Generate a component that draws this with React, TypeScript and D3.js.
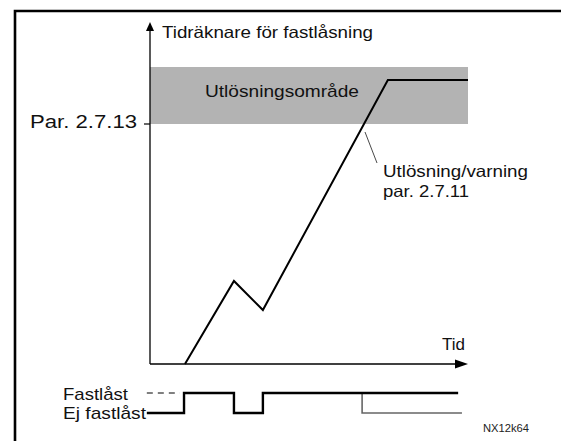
import React from "react";
import * as d3 from "d3";

// ---- data ----
const counterTime = [1.1, 2.64, 3.55, 7.48, 10];
const counterValue = [0, 34.6, 22.5, 118.3, 118.3];
const tripZone = [100, 123.75];
const limitValue = 100;
const limitLabel = "Par. 2.7.13";
const signalTime = [-0.1, 1.07, 2.64, 3.55, 9.69];
const signalState = [0, 1, 0, 1, 1];
const altSignalTime = [6.67, 6.67, 9.81];
const altSignalState = [1, 0, 0];
const dashedTime = [-0.1, 0.94];
const stateLabels = ["Ej fastlåst", "Fastlåst"];

const W = 561;
const H = 441;

export default function App() {
  const x = d3.scaleLinear().domain([0, 10]).range([150, 468]);
  const y = d3.scaleLinear().domain([0, 100]).range([364, 124]);
  const ys = d3.scaleLinear().domain([0, 1]).range([413, 393]);

  const counterPts = counterTime.map((t, i) => [t, counterValue[i]] as [number, number]);
  const counterLine = d3.line<[number, number]>().x((d) => x(d[0])).y((d) => y(d[1]))(counterPts) || "";

  const stepLine = d3
    .line<[number, number]>()
    .x((d) => x(d[0]))
    .y((d) => ys(d[1]))
    .curve(d3.curveStepAfter);
  const sigPath = stepLine(signalTime.map((t, i) => [t, signalState[i]] as [number, number])) || "";
  const altPath =
    d3
      .line<[number, number]>()
      .x((d) => x(d[0]))
      .y((d) => ys(d[1]))(altSignalTime.map((t, i) => [t, altSignalState[i]] as [number, number])) || "";

  const x0 = x(0);
  const y0 = y(0);
  const xEnd = x(10);
  const yTop = 22;
  const font = "Liberation Sans, Arial, Helvetica, sans-serif";

  return (
    <div style={{ position: "fixed", left: 0, top: 0, width: W, height: H, overflow: "hidden" }}>
      <svg width={W} height={H} style={{ display: "block" }} fontFamily={font}>
        <rect width={W} height={H} fill="#fff" />
        {/* frame */}
        <path d={`M15,${H} V11 H${W}`} fill="none" stroke="#000" strokeWidth={2.6} />

        {/* trip zone */}
        <rect
          x={x0}
          y={y(tripZone[1])}
          width={x(10) - x0}
          height={y(tripZone[0]) - y(tripZone[1])}
          fill="#b3b3b3"
        />
        <text x={205} y={97} fontSize={17} textLength={154} lengthAdjust="spacingAndGlyphs" fill="#111">
          Utlösningsområde
        </text>

        {/* axes */}
        <line x1={x0} y1={y0} x2={x0} y2={yTop + 6} stroke="#000" strokeWidth={1.3} />
        <path d={`M${x0},${yTop} L${x0 - 4},${yTop + 9} L${x0 + 4},${yTop + 9} Z`} fill="#000" />
        <line x1={x0} y1={y0} x2={xEnd - 6} y2={y0} stroke="#000" strokeWidth={1.3} />
        <path d={`M${xEnd},${y0} L${xEnd - 13},${y0 - 4.5} L${xEnd - 13},${y0 + 4.5} Z`} fill="#000" />
        <line x1={x0 - 6} y1={y(limitValue)} x2={x0} y2={y(limitValue)} stroke="#000" strokeWidth={1.2} />

        <text x={162} y={38} fontSize={16.5} textLength={211} lengthAdjust="spacingAndGlyphs" fill="#111">
          Tidräknare för fastlåsning
        </text>
        <text x={30} y={128} fontSize={17.5} textLength={107} lengthAdjust="spacingAndGlyphs" fill="#111">
          {limitLabel}
        </text>
        <text x={442} y={350} fontSize={17} fill="#111">
          Tid
        </text>

        {/* counter line */}
        <path d={counterLine} fill="none" stroke="#000" strokeWidth={2} strokeLinejoin="miter" />

        {/* annotation */}
        <line x1={365} y1={132} x2={377} y2={163} stroke="#333" strokeWidth={0.9} />
        <text x={383} y={177} fontSize={16.5} textLength={145} lengthAdjust="spacingAndGlyphs" fill="#111">
          Utlösning/varning
        </text>
        <text x={383} y={197} fontSize={16.5} textLength={86} lengthAdjust="spacingAndGlyphs" fill="#111">
          par. 2.7.11
        </text>

        {/* lock signal */}
        <line
          x1={x(dashedTime[0])}
          y1={ys(1)}
          x2={x(dashedTime[1])}
          y2={ys(1)}
          stroke="#000"
          strokeWidth={1}
          strokeDasharray="6,5"
        />
        <path d={altPath} fill="none" stroke="#666" strokeWidth={1.6} />
        <path d={sigPath} fill="none" stroke="#000" strokeWidth={2.4} />
        <text x={63} y={400} fontSize={17} textLength={65} lengthAdjust="spacingAndGlyphs" fill="#111">
          {stateLabels[1]}
        </text>
        <text x={63} y={419} fontSize={17} textLength={83} lengthAdjust="spacingAndGlyphs" fill="#111">
          {stateLabels[0]}
        </text>

        <text x={483} y={432} fontSize={10} textLength={46} lengthAdjust="spacingAndGlyphs" fill="#222">
          NX12k64
        </text>
      </svg>
    </div>
  );
}
